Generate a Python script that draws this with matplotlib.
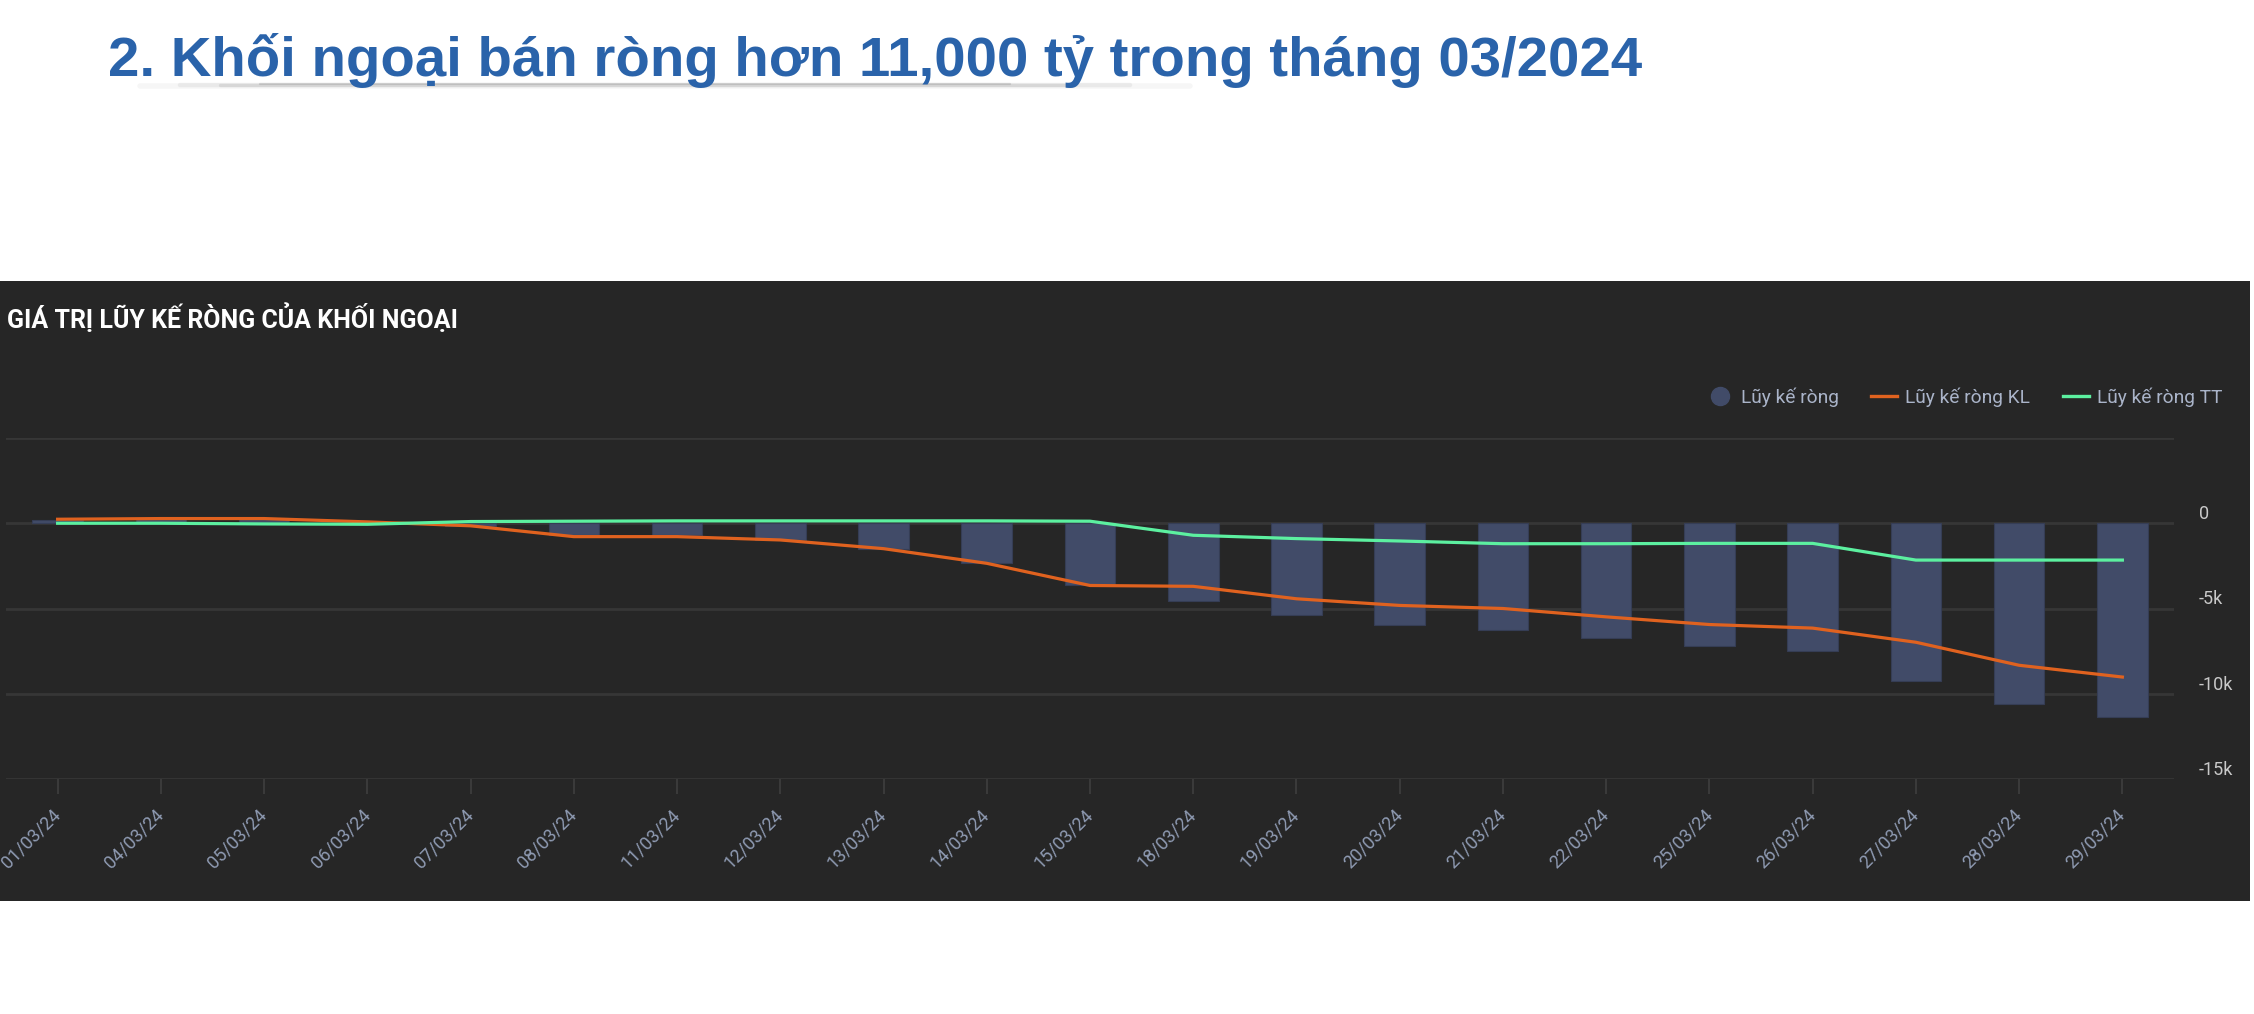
import matplotlib
matplotlib.use("Agg")
import matplotlib.pyplot as plt
from matplotlib import font_manager
from matplotlib.lines import Line2D
from matplotlib.patches import Rectangle

# ---- data ----
dates = ['01/03/24', '04/03/24', '05/03/24', '06/03/24', '07/03/24', '08/03/24',
         '11/03/24', '12/03/24', '13/03/24', '14/03/24', '15/03/24', '18/03/24',
         '19/03/24', '20/03/24', '21/03/24', '22/03/24', '25/03/24', '26/03/24',
         '27/03/24', '28/03/24', '29/03/24']
luy_ke = [200, 250, 230, 30, -150, -700, -700, -980, -1490, -2310, -3650,
          -4570, -5410, -5980, -6270, -6740, -7210, -7500, -9270, -10600, -11350]
luy_ke_kl = [235, 275, 275, 80, -150, -785, -785, -980, -1490, -2350, -3650,
             -3700, -4430, -4820, -5000, -5490, -5940, -6150, -6980, -8330, -9020]
luy_ke_tt = [0, 0, -40, -60, 100, 120, 140, 140, 140, 140, 120,
             -705, -900, -1040, -1200, -1200, -1180, -1180, -2160, -2160, -2160]
y_ticks = [-15000, -10000, -5000, 0, 5000]
y_labels = ['-15k', '-10k', '-5k', '0', '']

main_title = "2. Khối ngoại bán ròng hơn 11,000 tỷ trong tháng 03/2024"
panel_title = "GIÁ TRỊ LŨY KẾ RÒNG CỦA KHỐI NGOẠI"
names = ['Lũy kế ròng', 'Lũy kế ròng KL', 'Lũy kế ròng TT']

BG = '#262626'
BAR = '#414b68'
ORANGE = '#e0621f'
GREEN = '#5cf0a0'
GRID = '#363636'
TICK = '#8f9bb3'

installed = {f.name for f in font_manager.fontManager.ttflist}
title_font = 'Liberation Sans Narrow' if 'Liberation Sans Narrow' in installed else 'Liberation Sans'

plt.rcParams['font.family'] = ['Roboto', 'DejaVu Sans']

W, H = 2254, 1014
fig = plt.figure(figsize=(W / 100, H / 100), dpi=100, facecolor='white')

# dark panel
fig.patches.append(Rectangle((0, 1 - 901 / H), 2250 / W, 620 / H,
                             transform=fig.transFigure, facecolor=BG,
                             edgecolor='none', zorder=-5))

# main title + soft shadow under it
for i, a in enumerate([0.05, 0.08, 0.12, 0.18]):
    fig.add_artist(Line2D([(140 + i * 40) / W, (1190 - i * 60) / W],
                          [1 - (86 - i * 0.6) / H] * 2, transform=fig.transFigure,
                          color='#555555', alpha=a, lw=4 - i * 0.8,
                          solid_capstyle='round'))
fig.text(108 / W, 1 - 76 / H, main_title, family=title_font, weight='bold',
         fontsize=47 if title_font.endswith('Narrow') else 40.6,
         color='#2a63aa', va='baseline', ha='left')

fig.text(7 / W, 1 - 318 / H, panel_title, color='white', weight='bold',
         fontsize=18, va='center', ha='left')

ax = fig.add_axes([6 / W, 1 - 779 / H, 2168 / W, 341 / H])
ax.set_facecolor('none')
x = list(range(len(dates)))

ax.bar(x, luy_ke, width=0.49, color=BAR, edgecolor='#353d55', linewidth=0.8,
       zorder=2, label=names[0])
ax.plot(x, luy_ke_kl, color=ORANGE, lw=2.3, zorder=3, label=names[1])
ax.plot(x, luy_ke_tt, color=GREEN, lw=2.3, zorder=4, label=names[2])

ax.set_xlim(-0.5, len(dates) - 0.5)
ax.set_ylim(-15000, 5000)
for s in ax.spines.values():
    s.set_visible(False)

ax.set_yticks(y_ticks)
ax.set_yticklabels(y_labels)
ax.yaxis.tick_right()
ax.tick_params(axis='y', length=0, pad=18, labelsize=13, labelcolor='#c9c9c9')
for lab in ax.get_yticklabels():
    lab.set_verticalalignment('bottom')
ax.grid(axis='y', color=GRID, lw=2, zorder=0)
ax.set_axisbelow(True)

ax.set_xticks(x)
ax.set_xticklabels(dates, rotation=45, ha='right', va='center', rotation_mode='anchor')
ax.tick_params(axis='x', length=10.5, width=1.5, color='#3a3a3a', pad=13,
               labelsize=13, labelcolor=TICK)

handles = [Line2D([], [], marker='o', ls='none', markersize=13, color=BAR),
           Line2D([], [], color=ORANGE, lw=2.4),
           Line2D([], [], color=GREEN, lw=2.4)]
fig.legend(handles, names, loc='center right', bbox_to_anchor=(2222 / W, 1 - 397 / H),
           ncol=3, frameon=False, fontsize=13.8, labelcolor='#aab4c9',
           handlelength=1.35, handletextpad=0.42, columnspacing=1.7,
           borderaxespad=0, borderpad=0)

fig.savefig('out.png', dpi=100, facecolor='white')
